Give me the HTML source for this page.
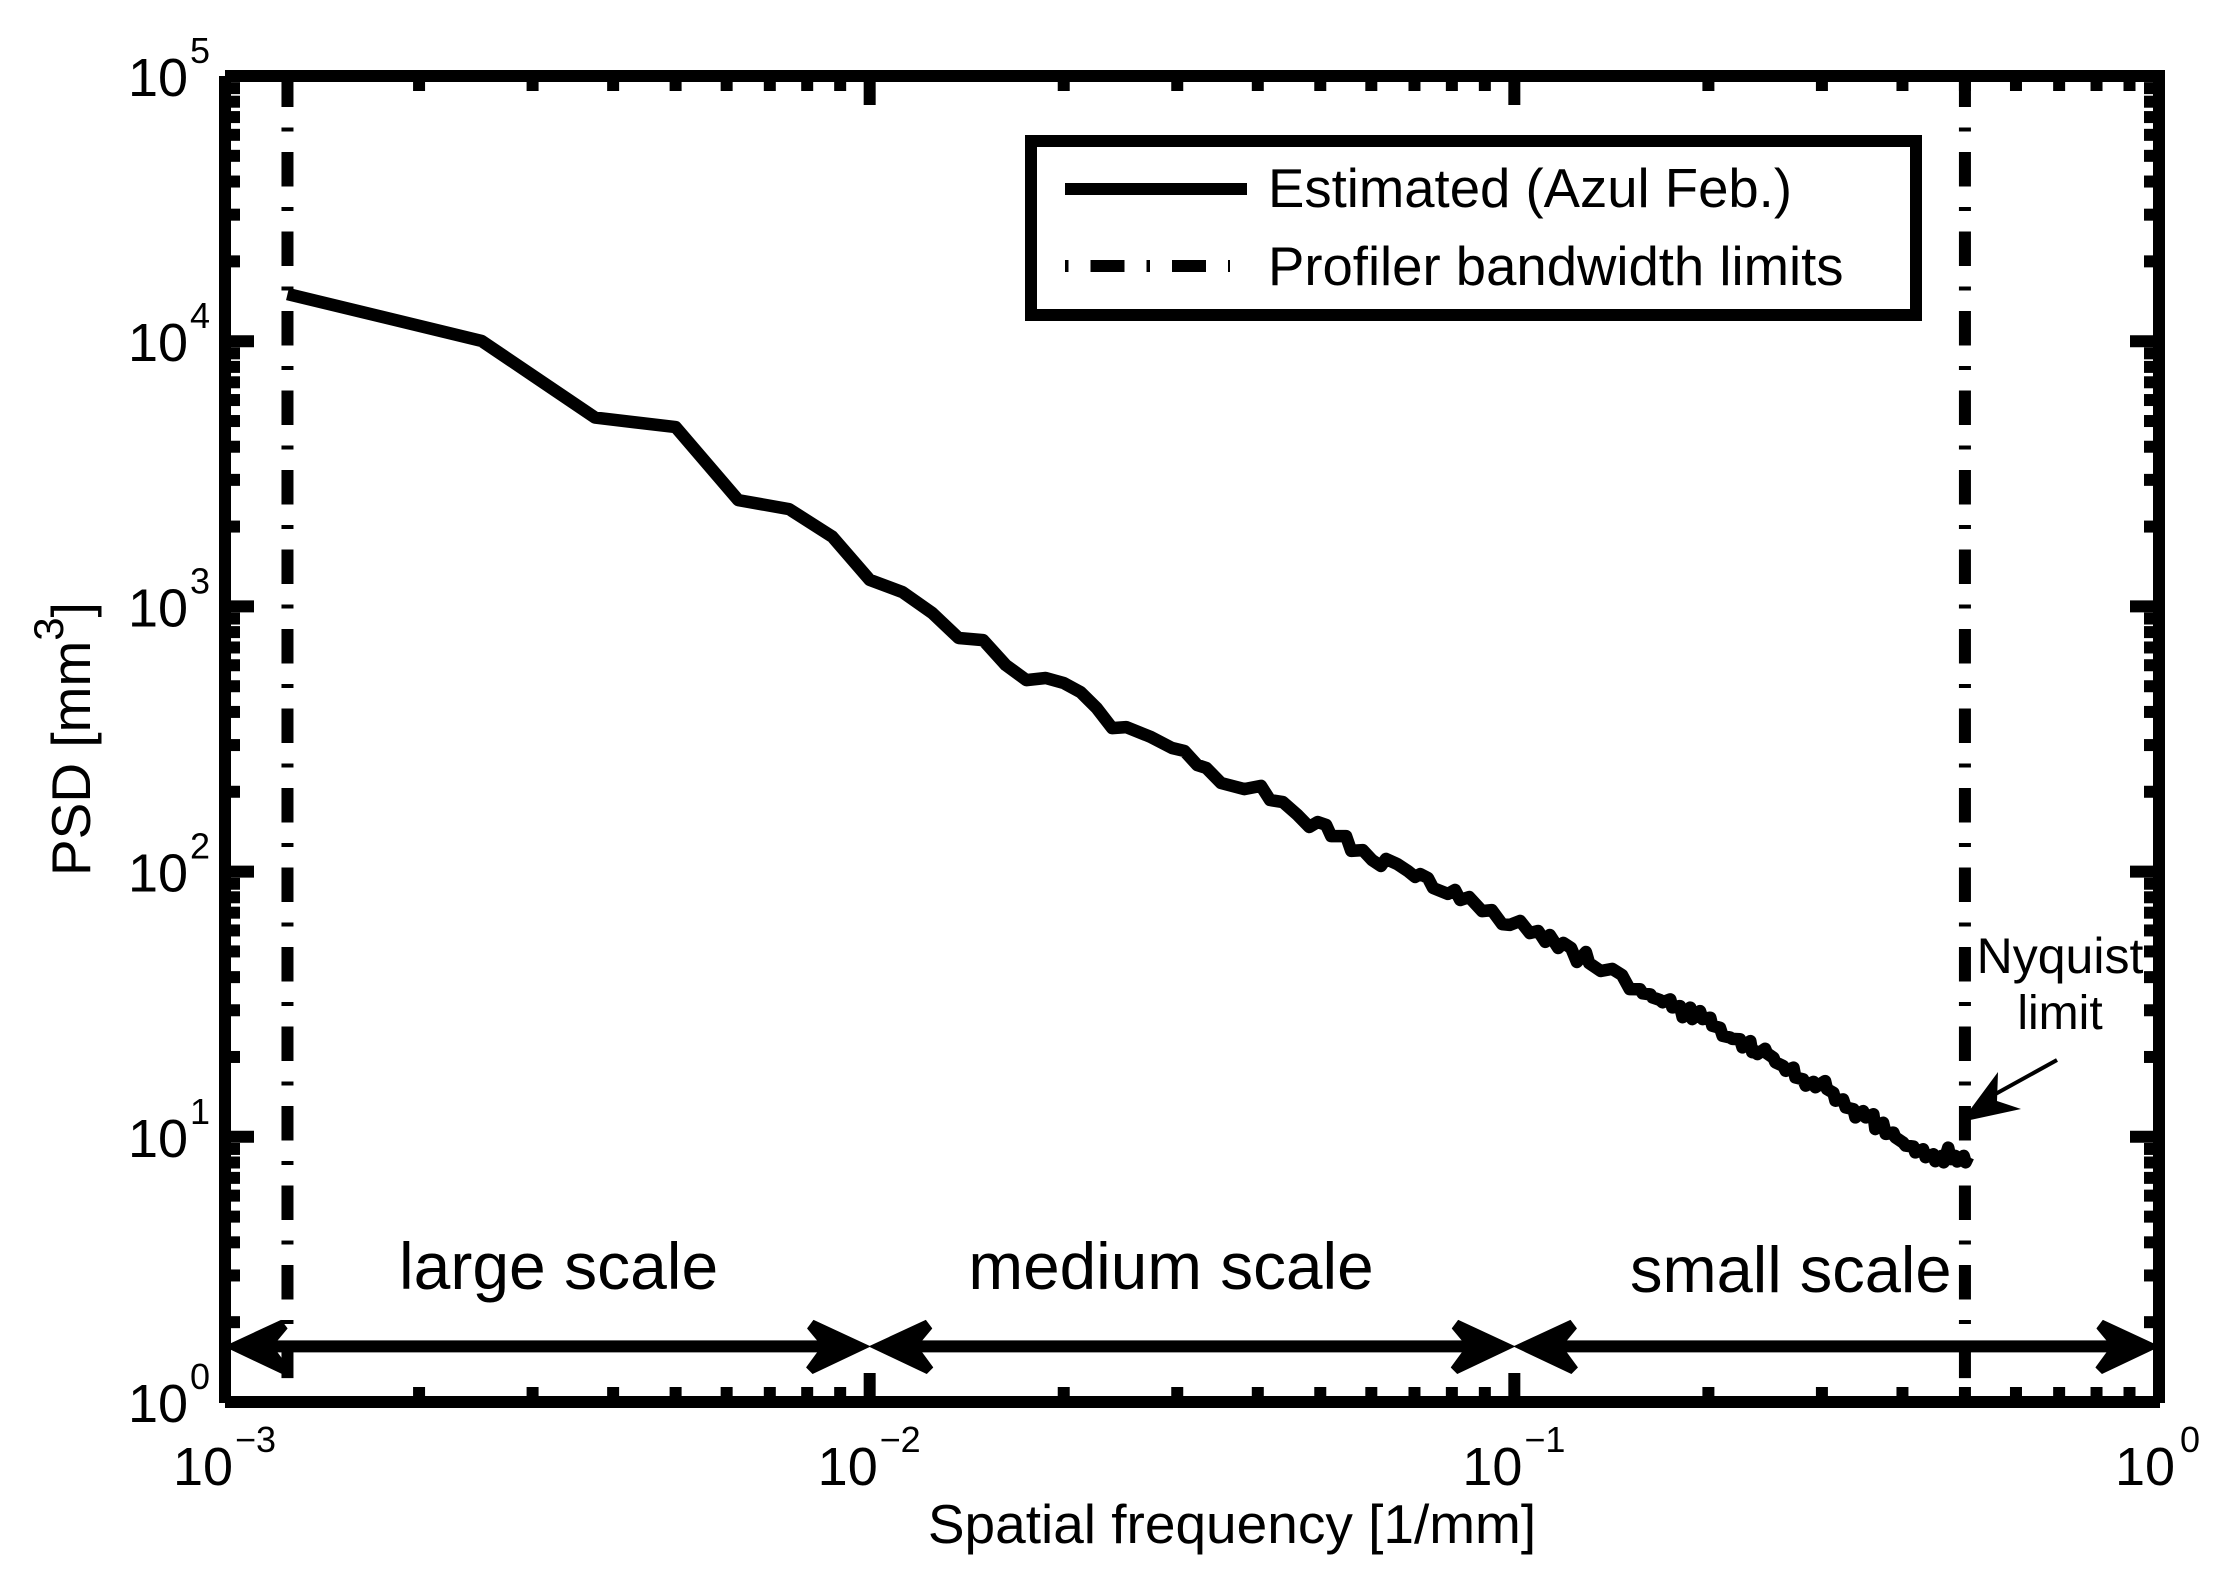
<!DOCTYPE html>
<html lang="en">
<head>
<meta charset="utf-8">
<title>Power spectral density chart</title>
<style>
  html, body { margin: 0; padding: 0; background: #fff; }
  svg { display: block; }
  text { font-family: "Liberation Sans", sans-serif; fill: #000; }
</style>
</head>
<body>
<svg id="chart" xmlns="http://www.w3.org/2000/svg" width="2216" height="1579" viewBox="0 0 2216 1579">
  <rect x="0" y="0" width="2216" height="1579" fill="#fff"/>
  <g id="bandwidth-layer"></g>
  <g id="series-layer"></g>
  <g id="arrow-layer"></g>
  <g id="axis-layer"></g>
  <g id="label-layer"></g>

  <text x="1232" y="1543" font-size="55" text-anchor="middle">Spatial frequency [1/mm]</text>
  <text transform="translate(90 876) rotate(-90)" font-size="55">PSD [mm<tspan font-size="42" dy="-27">3</tspan><tspan dy="27">]</tspan></text>

  <text x="399" y="1289" font-size="66">large scale</text>
  <text x="1171" y="1289" font-size="65.7" text-anchor="middle">medium scale</text>
  <text x="1630" y="1292" font-size="65">small scale</text>

  <text x="2060" y="973" font-size="50" text-anchor="middle">Nyquist</text>
  <text x="2060" y="1029" font-size="48" text-anchor="middle">limit</text>
  <g>
    <line x1="2057" y1="1060" x2="1990" y2="1097" stroke="#000" stroke-width="4"/>
    <polygon points="1961,1122 1998,1072 1997,1101 2021,1109" fill="#000"/>
  </g>

  <g>
    <rect x="1031" y="141" width="885" height="174" fill="#fff" stroke="#000" stroke-width="12"/>
    <line x1="1065" y1="189" x2="1247" y2="189" stroke="#000" stroke-width="12"/>
    <text x="1268" y="207" font-size="54.5">Estimated (Azul Feb.)</text>
    <line x1="1065" y1="266" x2="1230" y2="266" stroke="#000" stroke-width="12" stroke-dasharray="3.5 22 34 22" stroke-dashoffset="0"/>
    <text x="1268" y="285" font-size="54.5">Profiler bandwidth limits</text>
  </g>
</svg>
<script>
const xTickExponents = [-3, -2, -1, 0];
const yTickExponents = [0, 1, 2, 3, 4, 5];
const xTickLabels = ["\u22123", "\u22122", "\u22121", "0"];
const yTickLabels = ["0", "1", "2", "3", "4", "5"];
const minorMultipliers = [2, 3, 4, 5, 6, 7, 8, 9];
const bandwidthLimits = [0.00125, 0.5];
const scaleBoundaries = [0.001, 0.01, 0.1, 1];
const scaleArrowPsd = 1.62;

// Series values, as log10 of frequency and PSD.
const log10Frequency = [
  -2.903,-2.602,-2.426,-2.301,-2.204,-2.125,-2.058,-2.000,-1.949,-1.903,
  -1.862,-1.824,-1.789,-1.757,-1.727,-1.699,-1.673,-1.648,-1.624,-1.602,
  -1.564,-1.531,-1.512,-1.492,-1.478,-1.455,-1.419,-1.393,-1.379,-1.359,
  -1.336,-1.318,-1.305,-1.292,-1.284,-1.261,-1.253,-1.235,-1.221,-1.207,
  -1.199,-1.182,-1.165,-1.154,-1.146,-1.134,-1.126,-1.103,-1.092,-1.084,
  -1.070,-1.050,-1.035,-1.019,-1.007,-0.991,-0.976,-0.963,-0.952,-0.945,
  -0.932,-0.924,-0.912,-0.903,-0.889,-0.884,-0.866,-0.848,-0.833,-0.821,
  -0.805,-0.801,-0.789,-0.786,-0.774,-0.770,-0.758,-0.755,-0.743,-0.739,
  -0.727,-0.724,-0.712,-0.708,-0.696,-0.693,-0.681,-0.677,-0.665,-0.662,
  -0.650,-0.646,-0.634,-0.631,-0.627,-0.623,-0.611,-0.608,-0.598,-0.595,
  -0.583,-0.579,-0.567,-0.564,-0.552,-0.548,-0.536,-0.533,-0.518,-0.515,
  -0.505,-0.502,-0.490,-0.486,-0.474,-0.471,-0.459,-0.455,-0.443,-0.440,
  -0.428,-0.424,-0.412,-0.409,-0.397,-0.393,-0.381,-0.378,-0.366,-0.362,
  -0.350,-0.347,-0.337,-0.334,-0.327,-0.323,-0.316,-0.313,-0.303,-0.300,
  -0.296
];
const log10Psd = [
  4.178,4.001,3.712,3.676,3.401,3.367,3.263,3.100,3.054,2.975,
  2.881,2.873,2.779,2.722,2.730,2.711,2.677,2.617,2.541,2.545,
  2.508,2.466,2.455,2.402,2.391,2.334,2.311,2.323,2.270,2.262,
  2.213,2.168,2.187,2.176,2.134,2.134,2.078,2.081,2.044,2.021,
  2.048,2.029,2.002,1.980,1.991,1.976,1.938,1.916,1.931,1.893,
  1.904,1.851,1.855,1.802,1.799,1.814,1.768,1.776,1.735,1.761,
  1.712,1.731,1.712,1.659,1.697,1.655,1.625,1.633,1.610,1.557,
  1.556,1.541,1.537,1.526,1.516,1.507,1.518,1.488,1.493,1.451,
  1.487,1.444,1.474,1.444,1.449,1.419,1.411,1.381,1.374,1.369,
  1.368,1.337,1.361,1.319,1.324,1.312,1.332,1.315,1.298,1.281,
  1.267,1.249,1.261,1.224,1.217,1.193,1.207,1.187,1.210,1.180,
  1.166,1.136,1.141,1.111,1.104,1.073,1.097,1.073,1.085,1.029,
  1.053,1.011,1.016,0.998,0.978,0.967,0.963,0.941,0.953,0.923,
  0.934,0.908,0.928,0.904,0.959,0.916,0.928,0.907,0.928,0.904,
  0.925
];

const SVG_NS = "http://www.w3.org/2000/svg";
const plot = { left: 225, right: 2159, top: 76, bottom: 1402 };
const xDecadeMin = -3, xDecadeMax = 0, yDecadeMin = 0, yDecadeMax = 5;

function xFromLog(v) { return plot.left + (v - xDecadeMin) / (xDecadeMax - xDecadeMin) * (plot.right - plot.left); }
function yFromLog(v) { return plot.bottom - (v - yDecadeMin) / (yDecadeMax - yDecadeMin) * (plot.bottom - plot.top); }
function xScale(v) { return xFromLog(Math.log10(v)); }
function yScale(v) { return yFromLog(Math.log10(v)); }

function make(tag, attrs, parent) {
  const el = document.createElementNS(SVG_NS, tag);
  for (const k in attrs) el.setAttribute(k, attrs[k]);
  parent.appendChild(el);
  return el;
}

/* ---------- series ---------- */
const seriesLayer = document.getElementById("series-layer");
const seriesPoints = log10Frequency.map((f, i) => xFromLog(f).toFixed(1) + "," + yFromLog(log10Psd[i]).toFixed(1)).join(" ");
const seriesLine = make("polyline", { points: seriesPoints, fill: "none", stroke: "#000", "stroke-width": 12.5, "stroke-linejoin": "round" }, seriesLayer);



/* ---------- bandwidth limit lines ---------- */
const bandwidthLayer = document.getElementById("bandwidth-layer");
bandwidthLimits.forEach((limit) => {
  const x = xScale(limit);
  const line = make("line", { x1: x, x2: x, y1: yFromLog(yDecadeMax), y2: yFromLog(0.09), stroke: "#000", "stroke-width": 12, "stroke-dasharray": "34.5 20.5 4 20.5", "stroke-dashoffset": 3.5 }, bandwidthLayer);
  
  
});

/* ---------- scale range arrows ---------- */
const arrowLayer = document.getElementById("arrow-layer");
function arrowHead(tipX, tipY, dir) {
  const shape = [[0,0],[-56,-26],[-62,-18],[-52,-6],[-52,6],[-63,21],[-57,27]];
  const pts = shape.map(p => (tipX + dir * p[0]) + "," + (tipY + p[1])).join(" ");
  const head = make("polygon", { points: pts, fill: "#000", stroke: "#000", "stroke-width": 1, "stroke-linejoin": "round" }, arrowLayer);
  
  
}
const arrowY = yScale(scaleArrowPsd);
for (let i = 0; i < scaleBoundaries.length - 1; i++) {
  const x1 = xScale(scaleBoundaries[i]);
  const x2 = xScale(scaleBoundaries[i + 1]);
  const shaft = make("line", { x1: x1 + 20, x2: x2 - 20, y1: arrowY, y2: arrowY, stroke: "#000", "stroke-width": 12 }, arrowLayer);
  
  
  arrowHead(x1, arrowY, -1);
  arrowHead(x2, arrowY, 1);
}

/* ---------- axes and ticks ---------- */
const axisLayer = document.getElementById("axis-layer");
const AXIS_W = 12, MINOR = 15, MAJOR = 29;
function spine(x1, y1, x2, y2, name) {
  const el = make("line", { x1, y1, x2, y2, stroke: "#000", "stroke-width": AXIS_W }, axisLayer);
  
  
}
function tick(x1, y1, x2, y2, name) {
  const el = make("line", { x1, y1, x2, y2, stroke: "#000", "stroke-width": AXIS_W }, axisLayer);
  
  
}
spine(plot.left, plot.top, plot.right + 6, plot.top, "top-axis-line");
spine(plot.left, plot.top, plot.left, plot.bottom + 1, "left-axis-line");
spine(plot.right, plot.top - 6, plot.right, plot.bottom + 1, "right-axis-line");
spine(plot.left, plot.bottom, plot.right + 1, plot.bottom, "bottom-axis-line");

xTickExponents.forEach((e, idx) => {
  const x = xFromLog(e);
  if (idx > 0 && idx < xTickExponents.length - 1) {
    tick(x, plot.bottom, x, plot.bottom - MAJOR, "x-major-tick-bottom");
    tick(x, plot.top, x, plot.top + MAJOR, "x-major-tick-top");
  }
  if (idx < xTickExponents.length - 1) {
    minorMultipliers.forEach((m) => {
      const mx = xScale(m * Math.pow(10, e));
      tick(mx, plot.bottom, mx, plot.bottom - MINOR, "x-minor-tick-bottom");
      tick(mx, plot.top, mx, plot.top + MINOR, "x-minor-tick-top");
    });
  }
});
yTickExponents.forEach((e, idx) => {
  const y = yFromLog(e);
  if (idx > 0 && idx < yTickExponents.length - 1) {
    tick(plot.left, y, plot.left + MAJOR, y, "y-major-tick-left");
    tick(plot.right, y, plot.right - MAJOR, y, "y-major-tick-right");
  }
  if (idx < yTickExponents.length - 1) {
    minorMultipliers.forEach((m) => {
      const my = yScale(m * Math.pow(10, e));
      tick(plot.left, my, plot.left + MINOR, my, "y-minor-tick-left");
      tick(plot.right, my, plot.right - MINOR, my, "y-minor-tick-right");
    });
  }
});

/* ---------- tick labels ---------- */
const labelLayer = document.getElementById("label-layer");
function powerLabel(baseX, baseY, expX, expY, exponent, name) {
  const base = make("text", { x: baseX, y: baseY, "font-size": 54 }, labelLayer);
  base.textContent = "10";
  
  
  const exp = make("text", { x: expX, y: expY, "font-size": 36 }, labelLayer);
  exp.textContent = exponent;
  
  
}
xTickExponents.forEach((e, i) => {
  const x = xFromLog(e);
  const isPlain = xTickLabels[i] === "0";
  const baseX = isPlain ? x - 44 : x - 52;
  const expX = isPlain ? x + 21 : x + 10;
  powerLabel(baseX, 1485, expX, 1452, xTickLabels[i], "x-tick-label");
});
yTickExponents.forEach((e, i) => {
  const y = yFromLog(e);
  powerLabel(128, y + 20, 190, y - 13, yTickLabels[i], "y-tick-label");
});
</script>
</body>
</html>
